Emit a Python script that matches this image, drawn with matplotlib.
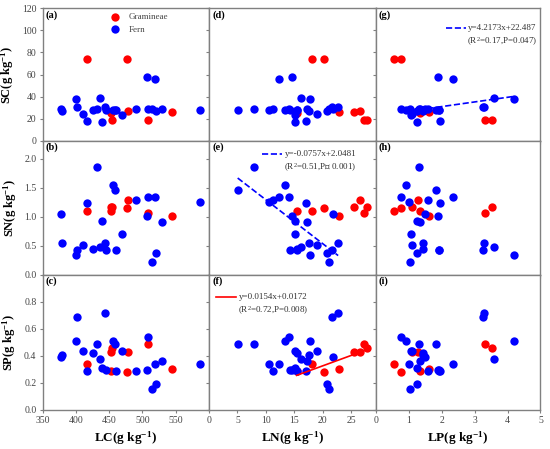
import numpy as np
import matplotlib.pyplot as plt

plt.rcParams['font.family'] = ['Liberation Serif', 'Noto Sans CJK SC']
plt.rcParams['mathtext.fontset'] = 'custom'
plt.rcParams['mathtext.rm'] = 'Liberation Serif'
plt.rcParams['mathtext.it'] = 'Liberation Serif:italic'
plt.rcParams['mathtext.bf'] = 'Liberation Serif:bold'

# Gramineae samples (leaf C/N/P vs soil C/N/P)
gram_lc = [416, 476, 545, 509, 454, 452, 453, 478]
gram_ln = [18.1, 20.3, 22.8, 27.2, 27.7, 15.4, 25.5, 26.6]
gram_lp = [0.54, 0.78, 1.61, 3.33, 3.53, 1.33, 1.11, 1.28]
gram_sc = [74, 74, 26, 19, 19, 25, 25.7, 27.3]
gram_sn = [1.10, 1.15, 1.01, 1.06, 1.16, 1.10, 1.16, 1.29]
gram_sp = [0.34, 0.28, 0.30, 0.485, 0.46, 0.286, 0.425, 0.425]

# Fern samples
fern_lc = [377, 379, 400, 401.5, 410.7, 416, 425.5, 431, 436, 439, 444, 445,
           455.6, 459, 460.5, 469.5, 490.5, 506.6, 507.7, 515, 519, 519.6, 529, 586]
fern_ln = [21.8, 17.5, 17.7, 21.6, 18.9, 17.05, 15.4, 7.9, 16.1, 15.05, 22.7, 14.2,
           13.3, 5.04, 15.5, 15.2, 11.2, 14.6, 14.1, 21.1, 12.25, 20.8, 17.2, 10.6]
fern_lp = [1.49, 1.42, 4.21, 3.25, 1.11, 1.94, 1.42, 1.32, 3.59, 1.26, 3.29, 1.93,
           0.91, 1.82, 1.92, 1.06, 1.58, 1.88, 0.78, 1.03, 2.36, 1.25, 1.35, 1.0]
fern_sc = [29.0, 27.2, 38.0, 30.3, 24.2, 17.9, 27.8, 28.5, 39.0, 17.2, 30.8, 28.0,
           27.9, 27.5, 27.8, 23.7, 28.7, 57.3, 28.5, 28.3, 56.3, 26.9, 28.7, 28.1]
fern_sn = [1.05, 0.55, 0.34, 0.42, 0.517, 1.24, 0.45, 1.86, 0.472, 0.93, 0.552, 0.42,
           1.547, 1.46, 0.426, 0.707, 1.28, 1.017, 1.345, 0.22, 1.34, 0.377, 0.914, 1.26]
fern_sp = [0.387, 0.407, 0.51, 0.688, 0.435, 0.29, 0.422, 0.487, 0.375, 0.308, 0.713, 0.296,
           0.512, 0.487, 0.288, 0.432, 0.288, 0.296, 0.538, 0.157, 0.342, 0.193, 0.363, 0.335]

cols = ['LC', 'LN', 'LP']
rows = ['SC', 'SN', 'SP']
xlims = {'LC': (350, 600), 'LN': (0, 29.3), 'LP': (0, 5)}
xticks = {'LC': [350, 400, 450, 500, 550], 'LN': [0, 5, 10, 15, 20, 25], 'LP': [0, 1, 2, 3, 4, 5]}
ylims = {'SC': (0, 120), 'SN': (0, 2.31), 'SP': (0, 1.0)}
yticks = {'SC': [0, 20, 40, 60, 80, 100, 120], 'SN': [0, 0.5, 1.0, 1.5, 2.0],
          'SP': [0, 0.2, 0.4, 0.6, 0.8]}
yfmt = {'SC': '{:.0f}', 'SN': '{:.1f}', 'SP': '{:.1f}'}
panel_names = [['(a)', '(d)', '(g)'], ['(b)', '(e)', '(h)'], ['(c)', '(f)', '(i)']]

gram = {'LC': gram_lc, 'LN': gram_ln, 'LP': gram_lp, 'SC': gram_sc, 'SN': gram_sn, 'SP': gram_sp}
fern = {'LC': fern_lc, 'LN': fern_ln, 'LP': fern_lp, 'SC': fern_sc, 'SN': fern_sn, 'SP': fern_sp}

# significant fits: (row, col) -> slope, intercept, group, color, style, eq, stats, key position
fits = {
    ('SN', 'LN'): (-0.0757, 2.0481, fern, 'blue', '--', 'y=-0.0757x+2.0481',
                   '(R$^2$=0.51,P＜ 0.001)', (0.318, 0.90)),
    ('SP', 'LN'): (0.0154, 0.0172, gram, 'red', '-', 'y=0.0154x+0.0172',
                   '(R$^2$=0.72,P=0.008)', (0.042, 0.837)),
    ('SC', 'LP'): (4.2173, 22.487, fern, 'blue', '--', 'y=4.2173x+22.487',
                   '(R$^2$=0.17,P=0.047)', (0.425, 0.851)),
}

col_left = [0.0776, 0.380, 0.6831]
col_w = [0.3024, 0.3031, 0.2996]
row_bottom = [0.6866, 0.3882, 0.0875]
row_h = [0.2949, 0.2984, 0.3007]

fig = plt.figure(figsize=(5.5, 4.49), dpi=100)
grey = '#808080'

for i, r in enumerate(rows):
    for j, c in enumerate(cols):
        ax = fig.add_axes([col_left[j], row_bottom[i], col_w[j], row_h[i]])
        ax.scatter(gram[c], gram[r], s=36, color='#ff0000', linewidths=0, zorder=3, label='Gramineae')
        ax.scatter(fern[c], fern[r], s=36, color='#0000ff', linewidths=0, zorder=3, label='Fern')

        if (r, c) in fits:
            k, b, grp, colr, ls, eq, stats, (kx, ky) = fits[(r, c)]
            xs = np.array([min(grp[c]), max(grp[c])])
            ax.plot(xs, k * xs + b, color=colr, ls=ls, lw=1.2, zorder=4)
            ax.plot([kx, kx + 0.12], [ky, ky], color=colr, ls=ls, lw=1.2, transform=ax.transAxes)
            ax.text(kx + 0.135, ky, eq, transform=ax.transAxes, fontsize=6.5, va='center',
                    color='#333333')
            ax.text(kx + 0.13, ky - 0.1, stats, transform=ax.transAxes, fontsize=6.5, va='center',
                    color='#333333')

        ax.set_xlim(xlims[c])
        ax.set_ylim(ylims[r])
        ax.set_xticks(xticks[c])
        ax.set_yticks(yticks[r])
        ax.set_yticklabels([yfmt[r].format(v) for v in yticks[r]])
        for s in ax.spines.values():
            s.set_color(grey)
            s.set_linewidth(1.0)
        ax.tick_params(direction='out', length=2.5, width=0.8, color=grey, labelsize=7,
                       labelcolor='#444444', pad=2)
        if j > 0:
            ax.tick_params(labelleft=False)
        else:
            ax.set_ylabel(r + r'(g kg$^{\mathbf{-1}}$)', fontsize=9, fontweight='bold', labelpad=4)
        if i < 2:
            ax.tick_params(labelbottom=False)
        else:
            ax.set_xlabel(c + r'(g kg$^{\mathbf{-1}}$)', fontsize=9.5, fontweight='bold', labelpad=3)

        ax.text(0.018, 0.95, panel_names[i][j], transform=ax.transAxes, fontsize=7.5,
                fontweight='bold', va='center', ha='left')

        if i == 0 and j == 0:
            ax.legend(loc='upper left', bbox_to_anchor=(0.34, 1.02), frameon=False, fontsize=6.5,
                      handletextpad=0.5, labelspacing=0.45, borderpad=0.3, labelcolor='#444444')

fig.savefig('out.png', dpi=100)
